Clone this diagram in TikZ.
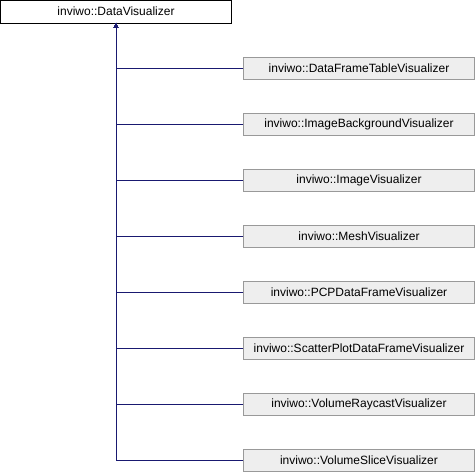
\documentclass[tikz,border=0pt]{standalone}
\usepackage{fontspec}
\setmainfont{Liberation Sans}
\usepackage{xcolor}
\definecolor{edgeblue}{HTML}{191970}
\definecolor{boxgray}{HTML}{EEEEEE}
\definecolor{rimgray}{HTML}{999999}
\usetikzlibrary{arrows.meta,calc}

\begin{document}
\begin{tikzpicture}[x=1pt,y=-1pt]
            \tikzset{base/.style = {draw=black, fill=white, minimum width=231pt, minimum height=22.5pt, inner sep=0pt, font=\fontsize{12}{14}\selectfont}}
            \tikzset{child/.style = {base, draw=rimgray, fill=boxgray}}
            \tikzset{edge/.style = {draw=edgeblue, line width=0.8pt, -{Triangle[length=5pt,width=4.5pt]}}}
            \useasboundingbox (0,0) rectangle (476,472);

            % vertices
            \node[base] (dv) at (116,11.5) {inviwo::DataVisualizer};
            \foreach \name [count=\i] in {DataFrameTableVisualizer,ImageBackgroundVisualizer,ImageVisualizer,MeshVisualizer,PCPDataFrameVisualizer,ScatterPlotDataFrameVisualizer,VolumeRaycastVisualizer,VolumeSliceVisualizer}
            {
              \node[child] (c\i) at (359,{68+56*(\i-1)}) {inviwo::\name};
            }

            % edges
            \foreach \i in {1,...,8} {\draw[edge] (c\i.west) -| (dv.south);}

          \end{tikzpicture}
\end{document}
